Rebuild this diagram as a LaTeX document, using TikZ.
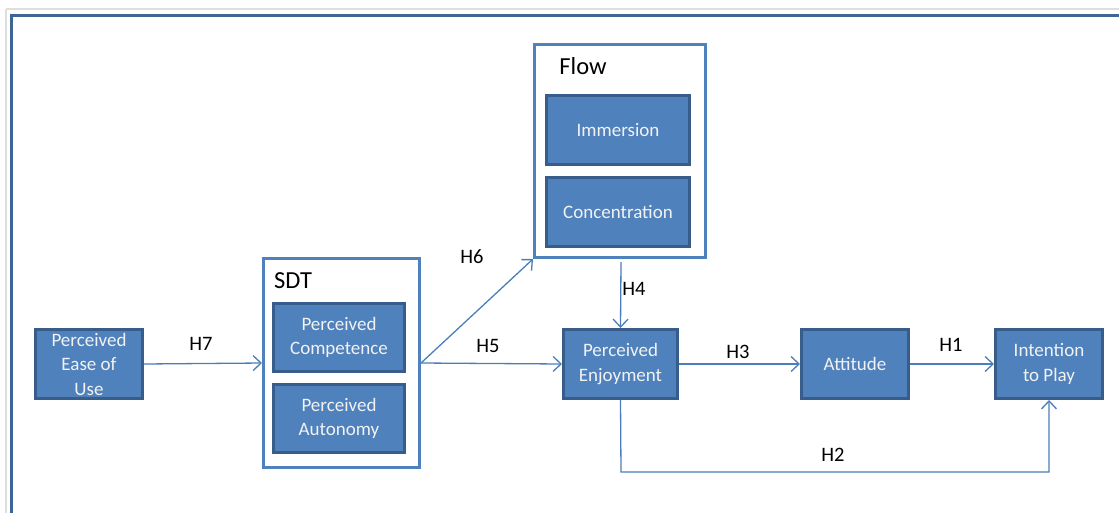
\documentclass[tikz,border=0pt]{standalone}
\usepackage{fontspec}
\setmainfont{Carlito}
\usetikzlibrary{arrows.meta}
\definecolor{boxfill}{HTML}{4F81BD}
\definecolor{boxline}{HTML}{385D8A}
\definecolor{frameline}{HTML}{3D6595}
\definecolor{conn}{HTML}{4A7EBB}
\definecolor{txtw}{HTML}{F2F2F2}
\tikzset{
  inner/.style={draw=boxline, line width=2.6pt, fill=boxfill, text=txtw, inner sep=0pt, align=center,
    font=\fontsize{19}{24.5}\selectfont},
  group/.style={draw=boxfill, line width=2.8pt, fill=white, inner sep=0pt},
  conn/.style={draw=conn, line width=1.3pt, -{Straight Barb[length=8pt,width=15pt,line width=1.3pt]}},
  hlab/.style={font=\fontsize{20.5}{24}\selectfont, text=black, inner sep=0pt},
  glab/.style={font=\fontsize{24.5}{28}\selectfont, text=black, inner sep=0pt},
}
\begin{document}
\begin{tikzpicture}[x=1pt,y=-1pt]
\useasboundingbox (0,0) rectangle (1119,512);
% frame
\draw[draw=black!13, line width=2pt] (6,9) -- (1130,9);
\draw[draw=black!13, line width=2pt] (6,9) -- (6,530);
\draw[draw=frameline, line width=3pt] (11,15) rectangle (1140,540);
% group boxes
\node[group, minimum width=156.2pt, minimum height=209.2pt] (sdt) at (341.5,363) {};
\node[glab] (sdtlab) at (293,281) {SDT};
\node[group, minimum width=171.2pt, minimum height=213.2pt] (flow) at (620,151) {};
\node[glab] (flowlab) at (583,66) {Flow};
% inner boxes
\node[inner, minimum width=107.4pt, minimum height=69.4pt] (peou) at (89,364) {Perceived\\Ease of\\Use};
\node[inner, minimum width=131.4pt, minimum height=68.4pt] (pc) at (339,337.5) {Perceived\\Competence};
\node[inner, minimum width=131.4pt, minimum height=68.4pt] (pa) at (339,418.5) {Perceived\\Autonomy};
\node[inner, minimum width=143.4pt, minimum height=69.4pt] (imm) at (618,130) {Immersion};
\node[inner, minimum width=143.4pt, minimum height=69.4pt] (con) at (618,212) {Concentration};
\node[inner, minimum width=114.4pt, minimum height=69.4pt] (pe) at (620.5,364) {Perceived\\Enjoyment};
\node[inner, minimum width=107.4pt, minimum height=69.4pt] (att) at (855,364) {Attitude};
\node[inner, minimum width=107.4pt, minimum height=69.4pt] (itp) at (1049,364) {Intention\\to Play};
% connectors
\coordinate (h4s) at (621,262);
\coordinate (h2c) at (621,472);
\draw[conn] (peou.east) -- (sdt.west);
\draw[conn] (sdt.east) -- (pe.west);
\draw[conn] (sdt.east) -- (flow.south west);
\draw[conn] (h4s) -- (pe.north);
\draw[conn] (pe.east) -- (att.west);
\draw[conn] (att.east) -- (itp.west);
\draw[conn] (pe.south) -- (h2c) -| (itp.south);
% labels
\node[hlab] (h7) at (201,344) {H7};
\node[hlab] (h5) at (488,346) {H5};
\node[hlab] (h6) at (472,257) {H6};
\node[hlab] (h4) at (634,289) {H4};
\node[hlab] (h3) at (738,352) {H3};
\node[hlab] (h1) at (951,345) {H1};
\node[hlab] (h2) at (833,455) {H2};
\end{tikzpicture}
\end{document}
